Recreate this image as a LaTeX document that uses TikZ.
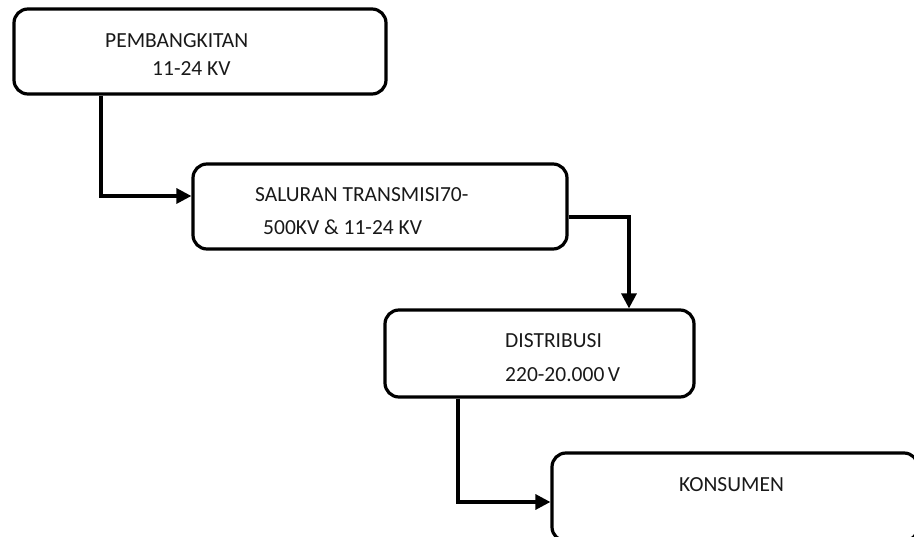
\documentclass[tikz,border=0pt]{standalone}
\usepackage{fontspec}
\setmainfont{Carlito}
\usetikzlibrary{arrows.meta}
\begin{document}
\begin{tikzpicture}[x=1pt,y=-1pt,
  box/.style={draw,line width=3.2pt,rounded corners=14pt,inner sep=0pt},
  lbl/.style={anchor=base west,inner sep=0pt,font=\fontsize{21.5}{26}\selectfont,text=black!90},
  arr/.style={line width=3.2pt,-{Triangle[length=15pt,width=15pt]}}]
\useasboundingbox (0,0) rectangle (914,537);
\clip (0,0) rectangle (914,537);
\node[box,minimum width=372pt,minimum height=85pt] (b1) at (200,51.5) {};
\node[box,minimum width=374pt,minimum height=85pt] (b2) at (380,206.5) {};
\node[box,minimum width=309pt,minimum height=87pt] (b3) at (539.5,353.5) {};
\node[box,minimum width=366pt,minimum height=88pt] (b4) at (735,497) {};
\node[lbl] (t1a) at (105,48) {PEMBANGKITAN};
\node[lbl] (t1b) at (152,76) {11-24 KV};
\node[lbl] (t2a) at (255,202) {SALURAN TRANSMISI70-};
\node[lbl] (t2b) at (263,235) {500KV \& 11-24 KV};
\node[lbl] (t3a) at (505,348) {DISTRIBUSI};
\node[lbl] (t3b) at (505,382) {220-20.000\,V};
\node[lbl] (t4a) at (679,492) {KONSUMEN};
\coordinate (k1) at (101,196);
\coordinate (k2) at (629,217);
\coordinate (k3) at (458,502);
\draw[arr] (b1.south -| k1) |- (b2.west |- k1);
\draw[arr] (b2.east |- k2) -| (b3.north -| k2);
\draw[arr] (b3.south -| k3) |- (b4.west |- k3);
\end{tikzpicture}
\end{document}
